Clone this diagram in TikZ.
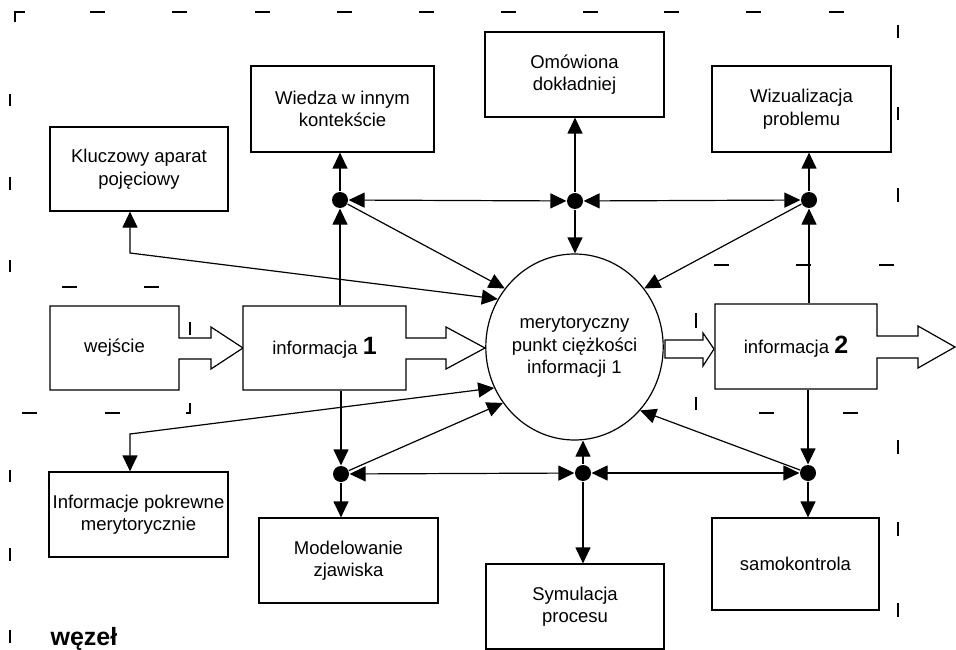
\documentclass[tikz,border=0pt]{standalone}
\usepackage{fontspec}
\setmainfont{Liberation Sans}
\usetikzlibrary{arrows.meta,shapes.geometric}

\begin{document}
\begin{tikzpicture}[x=1pt,y=-1pt,
  line width=1.2pt,
  font=\fontsize{18.5}{22.5}\selectfont,
  box/.style={draw,rectangle,inner sep=0pt,align=center},
  label/.style={inner sep=0pt,align=center},
  dot/.style={circle,fill=black,inner sep=0pt,minimum size=16pt},
  tick/.style={line width=1.2pt},
  >={Triangle[length=16pt,width=15pt]},
  big/.style={font=\bfseries\fontsize{25}{25}\selectfont}
]
\useasboundingbox (0,0) rectangle (956,650);

% frame marks: outer frame, top edge
\draw[tick] (15,22) -- (15,12) -- (25,12);
\foreach \a in {90,172,255,337,419,501,583,664,746,829}
  \draw[tick] (\a,12) -- ++(15,0);
% outer frame, left and right edges
\foreach \a/\b in {94/106,177/190,260/272,470/482,548/561,630/643}
  \draw[tick] (10,\a) -- (10,\b);
\foreach \a/\b in {25/38,107/120,188/202,440/454,522/536,603/617}
  \draw[tick] (898,\a) -- (898,\b);
% inner frame round the input block
\foreach \a in {62,144}
  \draw[tick] (\a,287) -- ++(15,0);
\foreach \a in {22,105}
  \draw[tick] (\a,413) -- ++(15,0);
\draw[tick] (190,322) -- (190,335);
\draw[tick] (186,413) -- (190,413) -- (190,403);
% inner frame round the second information block
\foreach \a in {714,796,879}
  \draw[tick] (\a,265) -- ++(15,0);
\foreach \a in {759,843}
  \draw[tick] (\a,413) -- ++(15,0);
\draw[tick] (696,313) -- (696,328);
\draw[tick] (696,397) -- (696,410);

% boxes
\node[box,minimum width=183pt,minimum height=86pt] (wiedza) at (342.5,109) {Wiedza w innym\\kontekście};
\node[box,minimum width=179pt,minimum height=85pt] (omow) at (574.5,74.5) {Omówiona\\dokładniej};
\node[box,minimum width=179pt,minimum height=86pt] (wiz) at (801.5,109) {Wizualizacja\\problemu};
\node[box,minimum width=178pt,minimum height=84pt] (klucz) at (139,169) {Kluczowy aparat\\pojęciowy};
\node[box,minimum width=179pt,minimum height=85pt] (pokr) at (138.5,514.5) {Informacje pokrewne\\merytorycznie};
\node[box,minimum width=179pt,minimum height=85pt] (model) at (348.5,560.5) {Modelowanie\\zjawiska};
\node[box,minimum width=178pt,minimum height=85pt] (sym) at (575,606.5) {Symulacja\\procesu};
\node[box,minimum width=167pt,minimum height=92pt] (samo) at (795.5,564) {samokontrola};

% block-arrow callouts
\draw[fill=white] (50,306) -- (179,306) -- (179,338) -- (211,338) -- (211,327) -- (243,348)
  -- (211,369) -- (211,359) -- (179,359) -- (179,390) -- (50,390) -- cycle;
\draw[fill=white] (243,306) -- (406,306) -- (406,338) -- (446,338) -- (446,327) -- (485,348)
  -- (446,369) -- (446,359) -- (406,359) -- (406,390) -- (243,390) -- cycle;
\draw[fill=white] (715,304) -- (877,304) -- (877,336) -- (918,336) -- (918,326) -- (955,347)
  -- (918,368) -- (918,358) -- (877,358) -- (877,389) -- (715,389) -- cycle;
\node[label,minimum width=129pt,minimum height=84pt] (wej) at (114.5,348) {wejście};
\node[label,minimum width=163pt,minimum height=84pt] (info1) at (324.5,348) {informacja {\bfseries\fontsize{25}{25}\selectfont 1}};
\node[label,minimum width=162pt,minimum height=85pt] (info2) at (796,346.5) {informacja {\bfseries\fontsize{25}{25}\selectfont 2}};

% centre
\node[draw,ellipse,inner sep=0pt,minimum width=177pt,minimum height=186pt,align=center,fill=white]
  (circ) at (574.5,347) {merytoryczny\\punkt ciężkości\\informacji 1};
\draw[fill=white] (665,340) -- (703,340) -- (703,333) -- (714,349) -- (703,366) -- (703,358)
  -- (665,358) -- cycle;

% junction dots
\node[dot] (d1) at (340,200) {};
\node[dot] (d2) at (575,201) {};
\node[dot] (d3) at (809,200) {};
\node[dot] (d4) at (341,474) {};
\node[dot] (d5) at (583,473) {};
\node[dot] (d6) at (808,473) {};
\coordinate (k1) at (130,253);
\coordinate (k2) at (130,434);

% upper connectors
\draw[->] (d1) -- (d1 |- wiedza.south);
\draw[->] (info1.north -| d1) -- (d1);
\draw[<->] (d1) -- (d2);
\draw[<->] (d2) -- (d3);
\draw[->] (d2) -- (d2 |- omow.south);
\draw[->] (d2) -- (d2 |- circ.north);
\draw[->] (d3) -- (d3 |- wiz.south);
\draw[->] (info2.north -| d3) -- (d3);
\draw[->] (d1) -- (circ.140);
\draw[->] (d3) -- (circ.40);
\draw[<->] (klucz.south -| k1) -- (k1) -- (circ.148);

% lower connectors
\draw[->] (info1.south -| d4) -- (d4);
\draw[->] (d4) -- (d4 |- model.north);
\draw[<->] (d4) -- (d5);
\draw[<->] (d5) -- (d6);
\draw[->] (d5) -- (d5 |- circ.south);
\draw[->] (d5) -- (d5 |- sym.north);
\draw[->] (info2.south -| d6) -- (d6);
\draw[->] (d6) -- (d6 |- samo.north);
\draw[->] (d4) -- (circ.218);
\draw[->] (d6) -- (circ.316);
\draw[<->] (pokr.north -| k2) -- (k2) -- (circ.207);

% caption
\node[anchor=base west,inner sep=0pt,font=\bfseries\fontsize{25}{25}\selectfont] (wezel) at (50,645) {węzeł};
\end{tikzpicture}
\end{document}
